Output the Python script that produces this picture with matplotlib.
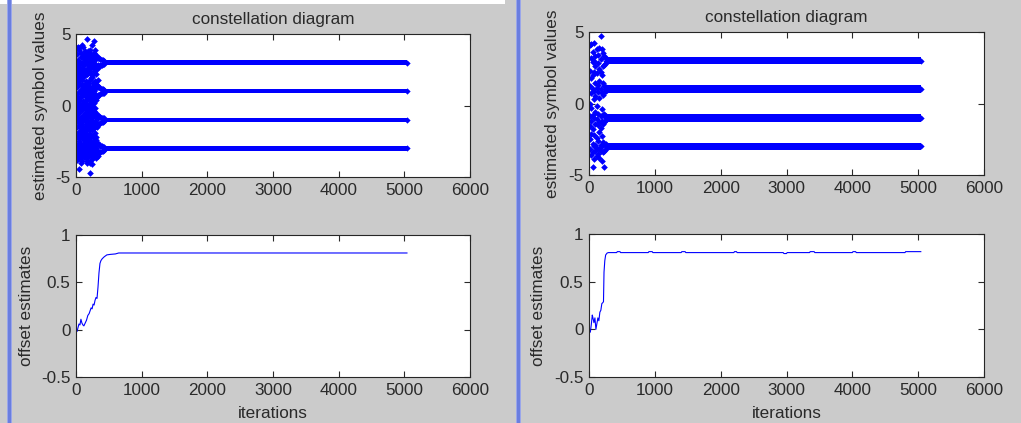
import matplotlib
matplotlib.use("Agg")
import matplotlib.pyplot as plt
from matplotlib.patches import Rectangle

# ---------------- data ----------------
levels = [3, 1, -1, -3]
n_iter = 5040

# left figure: transient constellation points (x, list of y)
left_cols_x = [0, 10, 20, 30, 40, 50, 60, 70, 80, 90, 100, 110, 120, 130, 140, 150, 160, 170,
               180, 190, 200, 210, 220, 230, 240, 250, 260, 270, 280, 290, 300, 310, 320, 330,
               350, 370, 390, 410, 430]
left_cols_y = [
    [0.0],
    [3.6, 2.4, 1.3, 0.2, -0.6, -1.5, -2.2, -3.1, -3.8, 4.0],
    [2.9, 1.9, 0.6, -0.3, -1.1, -2.0, -2.8, -3.5],
    [3.2, 2.1, 0.9, -0.1, -0.9, -1.9, -2.7, -3.4, 4.1, 1.7],
    [4.05, 2.6, 1.5, 0.4, -0.5, -1.4, -2.3, -3.0, -3.7],
    [3.9, 2.7, 1.6, 0.5, -0.4, -1.2, -2.5, -3.3, -4.46, 2.2],
    [3.0, 2.0, 1.0, 0.1, -1.0, -1.8, -2.6, -3.5],
    [3.4, 2.3, 1.1, 0.0, -0.8, -1.7, -2.9, -3.6, 3.0, 1.9],
    [3.7, 2.5, 1.4, 0.6, -0.2, -1.3, -2.1, -3.2, -4.0],
    [4.2, 3.0, 1.8, 0.7, -0.3, -1.4, -2.3, -3.0, -3.9, 0.9],
    [4.1, 2.8, 2.2, 1.2, 0.2, -0.7, -1.6, -2.7, -3.3],
    [3.3, 2.0, 1.4, 0.3, -0.7, -1.1, -2.0, -2.8, -3.5, 2.6],
    [3.5, 2.4, 0.8, -0.1, -0.9, -1.9, -2.4, -3.6],
    [3.7, 2.9, 1.0, -0.2, -1.0, -1.8, -2.6, -3.2, 1.5, -0.5],
    [3.8, 3.2, 2.1, 1.1, 0.3, -0.6, -1.5, -2.2, -3.0, -3.4],
    [3.1, 2.5, 1.7, 0.6, -0.5, -1.3, -2.4, -3.7, -3.0, 0.1],
    [3.4, 2.2, 1.3, 0.8, -0.3, -1.0, -2.0, -2.9, -3.9],
    [4.65, 3.5, 2.2, 1.2, 0.4, -0.9, -1.6, -2.7, -3.3, -4.0],
    [3.0, 2.6, 1.5, 0.0, -0.7, -1.4, -2.3, -3.1],
    [3.8, 2.8, 0.8, -0.1, -1.2, -2.1, -3.1, 1.6, -3.6, 2.4],
    [3.3, 2.4, 1.0, 0.5, -0.4, -1.7, -2.5, -3.4],
    [3.0, 2.3, 1.3, 0.2, -0.6, -1.5, -2.5, -3.4, -4.7, 3.6],
    [3.9, 2.9, 1.8, 0.7, -0.2, -1.2, -2.0, -2.8, -4.0],
    [3.6, 2.6, 1.9, 0.9, -0.3, -1.0, -2.2, -2.9, -3.8, 0.5],
    [3.2, 2.1, 1.2, 0.3, -0.8, -1.5, -2.6, -3.5],
    [4.2, 3.3, 2.0, 1.1, 0.0, -0.8, -1.7, -2.6, -3.2, -4.1],
    [3.5, 2.8, 1.6, 0.6, -0.5, -1.3, -2.1, -3.0, -3.7],
    [4.49, 3.1, 2.7, 1.4, 0.6, -0.4, -1.3, -2.3, -3.0, -3.5],
    [3.7, 2.4, 1.0, 0.2, -0.7, -1.6, -2.5, -3.3],
    [3.9, 2.9, 1.7, 0.8, -0.2, -1.1, -1.9, -2.8, -3.3, 3.4],
    [3.3, 2.5, 1.5, 0.5, -0.5, -1.2, -2.2, -3.0, -3.6],
    [3.5, 2.6, 1.2, 0.4, -0.6, -1.4, -2.4, -3.1, -3.7, 2.2],
    [3.4, 2.7, 1.4, 0.6, -0.8, -1.5, -2.6, -3.4],
    [3.3, 2.8, 1.3, 0.7, -0.9, -1.3, -2.7, -3.2, -3.5, 1.8],
    [3.35, 2.7, 1.3, 0.75, -0.7, -1.3, -2.7, -3.35],
    [3.25, 2.8, 1.2, 0.8, -0.8, -1.25, -2.8, -3.25],
    [3.2, 2.85, 1.15, 0.85, -0.85, -1.15, -2.85, -3.2],
    [3.15, 2.88, 1.12, 0.9, -0.9, -1.12, -2.9, -3.15],
    [3.1, 2.9, 1.1, 0.9, -0.9, -1.1, -2.9, -3.1],
]
left_band_start = 430
left_band_halfwidth = 0.16

# right figure: transient constellation points
right_cols_x = [0, 15, 35, 55, 75, 95, 115, 135, 155, 175, 195, 215, 235, 255]
right_cols_y = [
    [0.0],
    [4.1, 2.3, 1.2, 0.0, -0.9, -1.6, -2.5, -3.2],
    [4.15, 3.2, 1.8, 0.7, -0.3, -1.2, -2.1, -3.6],
    [3.6, 2.9, 2.0, 1.0, -0.8, -1.8, -2.8, -3.4, -4.46],
    [4.2, 3.0, 2.2, 0.9, 0.3, -1.0, -2.2, -3.0, -3.9],
    [3.3, 2.6, 1.4, 0.5, -0.6, -1.4, -2.9, -3.3],
    [3.8, 2.1, 1.1, -0.2, -1.1, -2.4, -3.1, -3.7],
    [3.4, 2.8, 1.3, 0.8, -0.7, -1.5, -2.6, -3.5],
    [3.9, 2.4, 1.6, 0.4, -1.3, -2.0, -3.2, -3.8],
    [4.72, 3.1, 2.2, 1.0, -0.9, -1.7, -2.9, -3.3],
    [3.8, 2.0, 0.7, -0.4, -1.2, -2.3, -3.0, -4.0],
    [3.5, 2.6, 1.4, 0.6, -0.8, -1.4, -2.7, -3.4],
    [3.3, 2.7, 1.2, 0.8, -0.7, -1.3, -2.8, -3.3, -4.46],
    [3.15, 2.85, 1.15, 0.85, -0.85, -1.15, -2.85, -3.15],
]
right_band_start = 255
right_band_halfwidth = 0.27

# offset estimates
off_left_x = [0, 15, 30, 45, 60, 75, 90, 105, 120, 140, 160, 180, 200, 215, 230, 245, 260, 275,
              290, 305, 320, 335, 350, 365, 380, 400, 430, 470, 520, 600, 650, 5040]
off_left_y = [0, -0.02, 0.02, 0.06, 0.05, 0.11, 0.07, 0.05, 0.04, 0.07, 0.10, 0.15, 0.17, 0.20,
              0.23, 0.22, 0.27, 0.26, 0.31, 0.34, 0.33, 0.45, 0.60, 0.70, 0.73, 0.75, 0.77,
              0.79, 0.795, 0.80, 0.81, 0.81]

off_right_x = [0, 20, 35, 50, 60, 75, 90, 105, 120, 135, 150, 165, 180, 195, 210, 220, 228, 240,
               253, 275, 294, 420, 430, 470, 480, 900, 910, 960, 970, 1400, 1410, 1460, 1470,
               2200, 2210, 2240, 2250, 2950, 2960, 3000, 3010, 3350, 3360, 3420, 3430, 4000,
               4010, 4050, 4060, 4800, 4810, 5040]
off_right_y = [0, -0.03, 0.05, 0.15, 0.12, 0.07, 0.12, 0.0, 0.06, 0.12, 0.09, 0.18, 0.20, 0.27,
               0.28, 0.29, 0.60, 0.72, 0.78, 0.80, 0.805, 0.805, 0.815, 0.815, 0.805, 0.805,
               0.815, 0.815, 0.805, 0.805, 0.815, 0.815, 0.805, 0.805, 0.815, 0.815, 0.805,
               0.805, 0.795, 0.795, 0.805, 0.805, 0.815, 0.815, 0.805, 0.805, 0.815, 0.815,
               0.805, 0.805, 0.815, 0.815]

x_ticks = [0, 1000, 2000, 3000, 4000, 5000, 6000]
const_yticks = [-5, 0, 5]
off_yticks = [-0.5, 0, 0.5, 1]

# ---------------- style ----------------
W, H = 1021, 423
BG = '#cbcbcb'
TXT = '#2a2a2a'
BLUE = '#0000ff'
plt.rcParams['font.family'] = ['Liberation Sans', 'DejaVu Sans']
plt.rcParams['font.size'] = 12.3

fig = plt.figure(figsize=(W / 100, H / 100), dpi=100, facecolor=BG)

# window decorations: white top strip and blue separators
fig.add_artist(Rectangle((0, 1 - 4 / H), 505 / W, 4 / H, transform=fig.transFigure,
                         facecolor='white', edgecolor='none'))
for x0 in (7, 516):
    fig.add_artist(Rectangle((x0 / W, 0), 1 / W, 1, transform=fig.transFigure,
                             facecolor='#9aa6ea', edgecolor='none'))
    fig.add_artist(Rectangle(((x0 + 1) / W, 0), 3 / W, 1, transform=fig.transFigure,
                             facecolor='#6a7ee0', edgecolor='none'))
    fig.add_artist(Rectangle(((x0 + 4) / W, 0), 1 / W, 1, transform=fig.transFigure,
                             facecolor='#9aa6ea', edgecolor='none'))


def make_ax(l, r, t, b):
    return fig.add_axes([l / W, 1 - b / H, (r - l) / W, (b - t) / H])


def style(ax, yticks, ylim, ylabel, ylab_px, l, r):
    ax.set_xlim(0, 6000)
    ax.set_ylim(*ylim)
    ax.set_xticks(x_ticks)
    ax.set_yticks(yticks)
    ax.set_yticklabels([('%g' % v) for v in yticks])
    ax.tick_params(direction='in', length=4, width=0.8, top=True, right=True,
                   colors=TXT, labelcolor=TXT, labelsize=12.3)
    ax.tick_params(axis='x', pad=4)
    ax.tick_params(axis='y', pad=4)
    for s in ax.spines.values():
        s.set_color('#262626')
        s.set_linewidth(0.8)
    ax.set_facecolor('white')
    ax.set_ylabel(ylabel, color=TXT, fontsize=12.3)
    ax.yaxis.set_label_coords((ylab_px - l) / (r - l), 0.5)


def constellation(ax, cols_x, cols_y, band_start, hw):
    xs, ys = [], []
    for x, col in zip(cols_x, cols_y):
        for y in col:
            xs.append(x)
            ys.append(y)
    for lv in levels:
        ax.fill_between([band_start, n_iter], [lv - hw] * 2, [lv + hw] * 2,
                        color=BLUE, linewidth=0)
        ax.plot([band_start, n_iter], [lv, lv], 'D', color=BLUE, ms=3.2, mew=0)
    ax.plot(xs, ys, 'D', color=BLUE, ms=3.4, mew=0, ls='none')


# left panel
ax1 = make_ax(76, 470, 34, 177)
constellation(ax1, left_cols_x, left_cols_y, left_band_start, left_band_halfwidth)
style(ax1, const_yticks, (-5, 5), 'estimated symbol values', 48, 76, 470)
ax1.set_title('constellation diagram', color=TXT, fontsize=12.3, pad=7)

ax2 = make_ax(76, 470, 235, 377)
ax2.plot(off_left_x, off_left_y, color=BLUE, lw=0.8)
style(ax2, off_yticks, (-0.5, 1), 'offset estimates', 34, 76, 470)
ax2.set_xlabel('iterations', color=TXT, fontsize=12.3, labelpad=6)

# right panel
ax3 = make_ax(589, 984, 32, 175)
constellation(ax3, right_cols_x, right_cols_y, right_band_start, right_band_halfwidth)
style(ax3, const_yticks, (-5, 5), 'estimated symbol values', 560, 589, 984)
ax3.set_title('constellation diagram', color=TXT, fontsize=12.3, pad=7)

ax4 = make_ax(589, 984, 234, 377)
ax4.plot(off_right_x, off_right_y, color=BLUE, lw=0.8)
style(ax4, off_yticks, (-0.5, 1), 'offset estimates', 546, 589, 984)
ax4.set_xlabel('iterations', color=TXT, fontsize=12.3, labelpad=6)

fig.savefig('out.png', dpi=100, facecolor=BG)
